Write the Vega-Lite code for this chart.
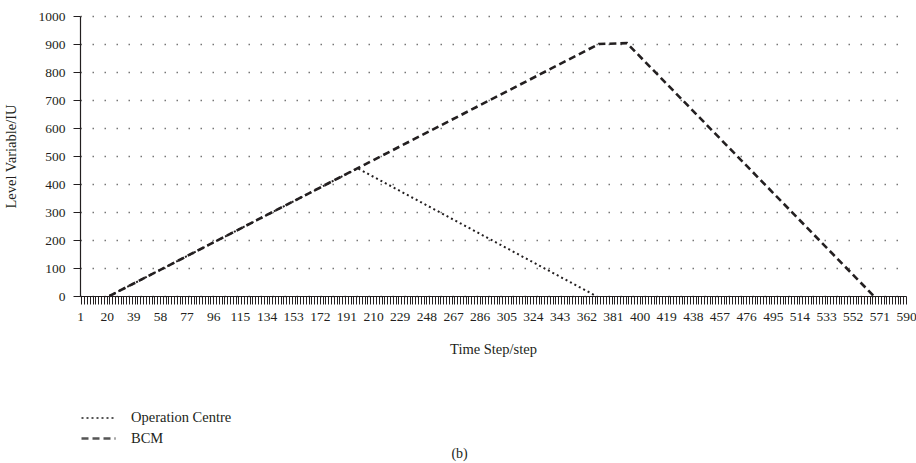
{
  "$schema": "https://vega.github.io/schema/vega-lite/v6.json",
  "width": 826,
  "height": 280,
  "autosize": {"type": "none"},
  "padding": {"left": 80, "top": 16, "right": 10, "bottom": 167},
  "background": "white",
  "title": {"text": "(b)", "orient": "bottom", "anchor": "middle", "frame": "bounds", "offset": 2, "font": "Liberation Serif", "fontSize": 14, "fontWeight": "normal", "color": "#231f20"},
  "config": {
    "view": {"stroke": null},
    "font": "Liberation Serif",
    "axis": {"labelFont": "Liberation Serif", "titleFont": "Liberation Serif"},
    "legend": {"labelFont": "Liberation Serif", "titleFont": "Liberation Serif"}
  },
  "data": {"values": [
    {"series": "Operation Centre", "step": 22, "value": 0},
    {"series": "Operation Centre", "step": 199, "value": 456},
    {"series": "Operation Centre", "step": 369, "value": 0},
    {"series": "BCM", "step": 22, "value": 0},
    {"series": "BCM", "step": 371, "value": 900},
    {"series": "BCM", "step": 391, "value": 903},
    {"series": "BCM", "step": 567, "value": 0}
  ]},
  "layer": [
    {
      "mark": {"type": "line", "color": "#231f20", "strokeCap": "butt"},
      "encoding": {
        "x": {"field": "step", "type": "quantitative",
          "scale": {"domain": [1, 590], "nice": false, "zero": false},
          "axis": {"orient": "bottom", "values": [1,20,39,58,77,96,115,134,153,172,191,210,229,248,267,286,305,324,343,362,381,400,419,438,457,476,495,514,533,552,571,590],
            "ticks": false, "domain": false, "grid": false, "labelFontSize": 13.5, "labelColor": "#231f20", "labelPadding": 13, "labelFlush": false, "labelOverlap": false,
            "title": "Time Step/step", "titleFontSize": 14.5, "titleFontWeight": "normal", "titleColor": "#231f20", "titlePadding": 20}},
        "y": {"field": "value", "type": "quantitative",
          "scale": {"domain": [0, 1000], "nice": false},
          "axis": {"values": [0,100,200,300,400,500,600,700,800,900,1000], "format": "d", "grid": true, "gridDash": [1.5, 10.5], "gridColor": "#777", "gridWidth": 1.5,
            "domainColor": "#231f20", "domainWidth": 1.2, "tickColor": "#231f20", "tickSize": 7, "labelPadding": 8, "labelFontSize": 13.5, "labelColor": "#231f20",
            "title": "Level Variable/IU", "titleFontSize": 14.5, "titleFontWeight": "normal", "titleColor": "#231f20", "titlePadding": 20}},
        "strokeDash": {"field": "series", "type": "nominal",
          "scale": {"domain": ["Operation Centre", "BCM"], "range": [[2, 3], [7, 4]]},
          "legend": {"orient": "none", "legendX": 7, "legendY": 391, "direction": "vertical", "title": null, "symbolType": "M-1.7,0H1.7", "symbolSize": 400,
            "symbolStrokeColor": "#555", "symbolStrokeWidth": 2, "symbolFillColor": "transparent", "labelFontSize": 14.5, "labelColor": "#231f20", "labelOffset": 21, "rowPadding": 2, "padding": 0}},
        "strokeWidth": {"field": "series", "type": "nominal",
          "scale": {"domain": ["Operation Centre", "BCM"], "range": [2, 2.6]}, "legend": null}
      }
    },
    {
      "mark": {"type": "point", "opacity": 0},
      "encoding": {
        "x": {"field": "step", "type": "quantitative",
          "axis": {"orient": "bottom", "tickCount": 300, "labels": false, "title": null, "grid": false, "tickSize": 8, "tickColor": "#231f20", "tickWidth": 1, "domainColor": "#231f20", "domainWidth": 1.2}}
      }
    }
  ],
  "resolve": {"axis": {"x": "independent"}}
}
